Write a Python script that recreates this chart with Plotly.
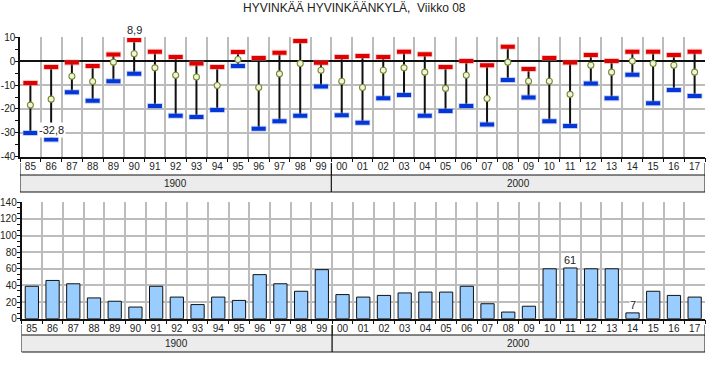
import plotly.graph_objects as go

# ---------------- data ----------------
years = ["85", "86", "87", "88", "89", "90", "91", "92", "93", "94", "95", "96", "97", "98", "99",
         "00", "01", "02", "03", "04", "05", "06", "07", "08", "09", "10", "11", "12", "13", "14",
         "15", "16", "17"]
group_names = ["1900", "2000"]
group_sizes = [15, 18]

t_max = [-9.1, -2.4, -0.6, -2.0, 2.8, 8.9, 4.0, 1.7, -1.0, -2.4, 3.8, 1.3, 3.5, 8.4, -0.7,
         1.7, 2.2, 1.7, 4.0, 2.9, -2.4, 0.1, -1.7, 6.0, -3.3, 1.3, -0.6, 2.6, 0.1, 4.0,
         4.0, 2.6, 4.0]
t_mean = [-18.4, -15.9, -6.3, -8.5, -0.4, 3.1, -2.8, -5.9, -6.6, -10.2, 0.7, -11.0, -5.3, -1.0, -3.8,
          -8.4, -11.0, -3.8, -2.8, -4.6, -11.4, -5.9, -15.6, -0.4, -8.4, -8.4, -13.9, -1.7, -4.6, 0.1,
          -1.0, -1.7, -4.6]
t_min = [-30.1, -32.8, -13.0, -16.6, -8.4, -5.3, -18.8, -22.9, -23.4, -20.4, -2.0, -28.3, -25.2, -22.9, -10.6,
         -22.6, -25.8, -15.5, -14.2, -22.9, -20.9, -18.8, -26.5, -7.9, -15.2, -25.2, -27.1, -9.3, -15.5, -5.7,
         -17.6, -12.1, -14.6]
precip = [39, 46, 42, 25, 21, 14, 39, 26, 17, 26, 22, 53, 42, 33, 59,
          29, 26, 28, 31, 32, 32, 39, 18, 8, 15, 60, 61, 60, 60, 7,
          33, 28, 26]

temp_ticks = [10, 0, -10, -20, -30, -40]
precip_ticks = [140, 120, 100, 80, 60, 40, 20, 0]

title_text = "HYVINKÄÄ HYVINKÄÄNKYLÄ,  Viikko 08"

# ---------------- layout helpers ----------------
W, H = 728, 368
FONT = "Liberation Sans, Arial, sans-serif"


def px_x(v):
    return v / W


def px_y(v):
    return 1 - v / H


top_dom_x = [px_x(20), px_x(705)]
top_dom_y = [px_y(156.7), px_y(37.3)]
bot_dom_x = [px_x(21.5), px_x(705)]
bot_dom_y = [px_y(318.7), px_y(202.3)]

fig = go.Figure()

# vertical range lines
seg_x, seg_y = [], []
for yr, lo, hi in zip(years, t_min, t_max):
    seg_x += [yr, yr, None]
    seg_y += [lo, hi, None]
fig.add_trace(go.Scatter(x=seg_x, y=seg_y, mode="lines",
                         line=dict(color="#111111", width=2),
                         xaxis="x", yaxis="y", hoverinfo="skip", showlegend=False))

# max markers (shadow + main)
fig.add_trace(go.Scatter(x=years, y=t_max, mode="markers",
                         marker=dict(symbol="line-ew", size=11,
                                     line=dict(color="rgba(240,130,130,0.45)", width=6)),
                         xaxis="x", yaxis="y", hoverinfo="skip", showlegend=False))
fig.add_trace(go.Scatter(x=years, y=t_max, mode="markers", name="max",
                         marker=dict(symbol="line-ew", size=10,
                                     line=dict(color="#e00000", width=4)),
                         xaxis="x", yaxis="y", showlegend=False))
# min markers
fig.add_trace(go.Scatter(x=years, y=t_min, mode="markers",
                         marker=dict(symbol="line-ew", size=11,
                                     line=dict(color="rgba(120,150,240,0.45)", width=6)),
                         xaxis="x", yaxis="y", hoverinfo="skip", showlegend=False))
fig.add_trace(go.Scatter(x=years, y=t_min, mode="markers", name="min",
                         marker=dict(symbol="line-ew", size=10,
                                     line=dict(color="#0536d8", width=4)),
                         xaxis="x", yaxis="y", showlegend=False))
# mean markers
fig.add_trace(go.Scatter(x=years, y=t_mean, mode="markers", name="mean",
                         marker=dict(symbol="circle", size=6, color="#eaf6e2",
                                     line=dict(color="#7d8a2a", width=1.1)),
                         xaxis="x", yaxis="y", showlegend=False))

# precipitation bars
fig.add_trace(go.Bar(x=years, y=precip, width=0.64,
                     marker=dict(color="#99ccff", line=dict(color="#111111", width=1)),
                     xaxis="x2", yaxis="y2", showlegend=False))

axis_font = dict(family=FONT, size=10, color="#222222")

common_x = dict(type="category", tickson="boundaries", showgrid=True, gridcolor="#bcbcbc",
                gridwidth=2, ticks="outside", ticklen=4, tickcolor="#111111",
                showline=True, linecolor="#111111", linewidth=1.5,
                tickfont=axis_font, automargin=False, fixedrange=True)

common_y = dict(showgrid=True, gridcolor="#bcbcbc", gridwidth=2,
                showline=True, linecolor="#111111", linewidth=1.5,
                ticks="outside", ticklen=3, tickcolor="#111111",
                ticklabelstandoff=-2,
                tickfont=axis_font, automargin=False, fixedrange=True)

fig.update_layout(
    width=W, height=H,
    margin=dict(l=0, r=0, t=0, b=0),
    paper_bgcolor="white", plot_bgcolor="white",
    font=dict(family=FONT, color="#222222"),
    xaxis=dict(domain=top_dom_x, anchor="y", range=[-0.5, len(years) - 0.5], **common_x),
    yaxis=dict(domain=top_dom_y, anchor="x", range=[-40, 10],
               tickvals=temp_ticks, ticktext=[str(v) for v in temp_ticks],
               zeroline=True, zerolinecolor="#111111", zerolinewidth=1.5,
               minor=dict(dtick=5, tick0=0, ticks="outside", ticklen=3, tickcolor="#111111",
                          showgrid=False),
               **common_y),
    xaxis2=dict(domain=bot_dom_x, anchor="y2", range=[-0.5, len(years) - 0.5], **common_x),
    yaxis2=dict(domain=bot_dom_y, anchor="x2", range=[0, 140],
                tickvals=precip_ticks, ticktext=[str(v) for v in precip_ticks],
                zeroline=False,
                minor=dict(dtick=20 / 3, tick0=0, ticks="outside", ticklen=3, tickcolor="#111111",
                           showgrid=False),
                **common_y),
)

shapes = []
annotations = []

# title
annotations.append(dict(text=title_text, x=px_x(354), y=px_y(8), xref="paper", yref="paper",
                        showarrow=False, xanchor="center", yanchor="middle",
                        font=dict(family=FONT, size=12, color="#222222")))

# group bands under both charts
for xref, band_top, band_bot, tick_top in [("x", 175, 192, 163), ("x2", 335, 352, 325)]:
    start = 0
    for name, n in zip(group_names, group_sizes):
        x0, x1 = start - 0.5, start + n - 0.5
        shapes.append(dict(type="rect", xref=xref, yref="paper", x0=x0, x1=x1,
                           y0=px_y(band_bot), y1=px_y(band_top),
                           fillcolor="#ececec", line=dict(color="#111111", width=1), layer="above"))
        for xb in (x0, x1):
            shapes.append(dict(type="line", xref=xref, yref="paper", x0=xb, x1=xb,
                               y0=px_y(band_top), y1=px_y(tick_top),
                               line=dict(color="#111111", width=1)))
        annotations.append(dict(text=name, xref=xref, yref="paper", x=(x0 + x1) / 2,
                                y=px_y((band_top + band_bot) / 2), showarrow=False,
                                xanchor="center", yanchor="middle",
                                font=dict(family=FONT, size=10, color="#222222")))
        start += n


def fmt(v):
    return f"{v:.1f}".replace(".", ",")


# extreme labels (x given as category index)
i_hi = max(range(len(t_max)), key=lambda i: t_max[i])
i_lo = min(range(len(t_min)), key=lambda i: t_min[i])
annotations.append(dict(text=fmt(t_max[i_hi]), xref="x", yref="y", x=i_hi, y=t_max[i_hi],
                        yshift=10, showarrow=False, bgcolor="white", borderpad=1,
                        font=dict(family=FONT, size=11, color="#222222")))
annotations.append(dict(text=fmt(t_min[i_lo]), xref="x", yref="y", x=i_lo, y=t_min[i_lo],
                        yshift=10, showarrow=False, bgcolor="white", borderpad=1,
                        font=dict(family=FONT, size=11, color="#222222")))

p_hi = max(range(len(precip)), key=lambda i: precip[i])
p_lo = min(range(len(precip)), key=lambda i: precip[i])
for i in (p_hi, p_lo):
    annotations.append(dict(text=str(precip[i]), xref="x2", yref="y2", x=i, y=precip[i],
                            yshift=8, showarrow=False, bgcolor="white", borderpad=0,
                            font=dict(family=FONT, size=11, color="#222222")))

fig.update_layout(shapes=shapes, annotations=annotations)

fig.write_html("out.html", config={"displayModeBar": False},
               post_script="document.body.style.margin='0';")
